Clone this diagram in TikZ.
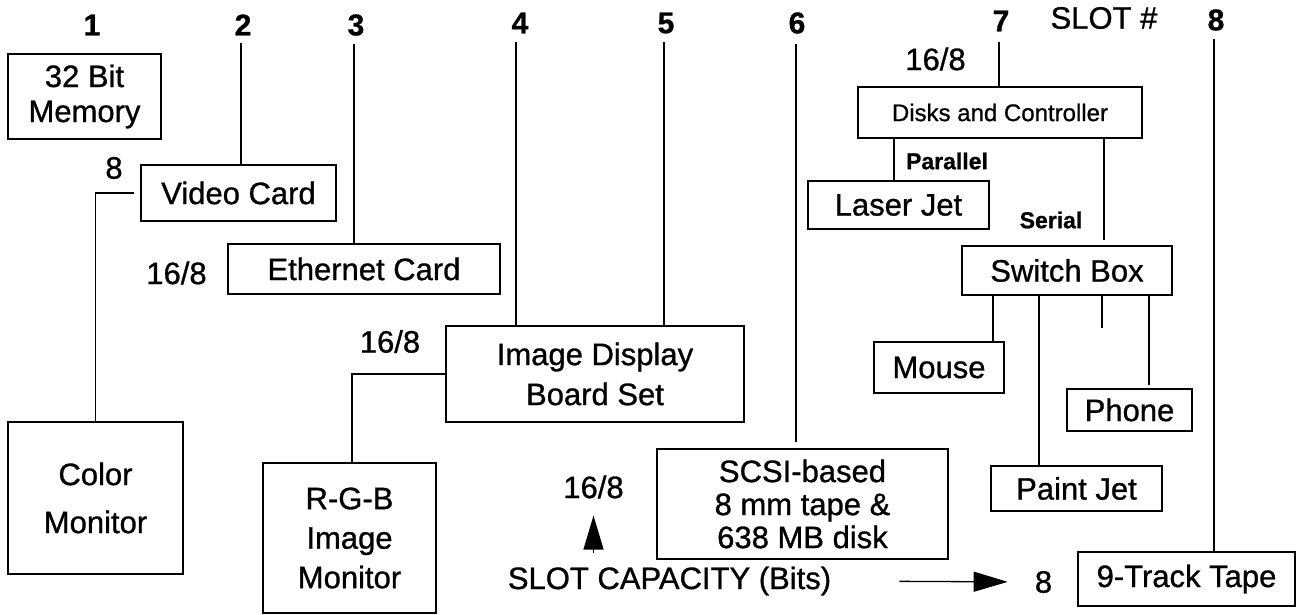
\documentclass[tikz,border=0pt]{standalone}
\usepackage{fontspec}
\setmainfont{Liberation Sans}[FakeBold=0.9]
\usetikzlibrary{arrows.meta}
\begin{document}
\begin{tikzpicture}[x=1pt,y=-1pt,
  box/.style={draw, line width=1.6pt, inner sep=0pt, align=center, font=\fontsize{31}{36}\selectfont},
  num/.style={inner sep=0pt, font=\bfseries\fontsize{30}{30}\selectfont},
  lbl/.style={inner sep=0pt, font=\fontsize{31}{31}\selectfont},
  smalllbl/.style={inner sep=0pt, font=\bfseries\fontsize{23}{23}\selectfont},
  wire/.style={line width=1.3pt},
  capArrow/.style={line width=1.3pt, -{Triangle[length=34pt,width=20pt]}},
]
\useasboundingbox (0,0) rectangle (1299,614);

% slot numbers
\node[num] (n1) at (92,25) {1};
\node[num] (n2) at (243,25) {2};
\node[num] (n3) at (356,25) {3};
\node[num] (n4) at (520,23) {4};
\node[num] (n5) at (666,23) {5};
\node[num] (n6) at (797,23) {6};
\node[num] (n7) at (1001,21) {7};
\node[lbl] (slot) at (1104,18) {SLOT \#};
\node[num] (n8) at (1216,20) {8};

% boxes
\node[box, minimum width=153pt, minimum height=85pt, font=\fontsize{31}{35}\selectfont] (mem) at (84.5,96.5) {32 Bit\\Memory};
\node[box, minimum width=195pt, minimum height=56pt] (video) at (238.5,193) {Video Card};
\node[box, minimum width=272pt, minimum height=50pt] (ether) at (364,269) {Ethernet Card};
\node[box, minimum width=175pt, minimum height=152pt, font=\fontsize{31}{48}\selectfont] (cmon) at (95.5,498) {Color\\Monitor};
\node[box, minimum width=298pt, minimum height=96pt, font=\fontsize{31}{40}\selectfont] (idb) at (595,374) {Image Display\\Board Set};
\node[box, minimum width=173pt, minimum height=150pt, font=\fontsize{31}{39.5}\selectfont] (rgb) at (349.5,538) {R-G-B\\Image\\Monitor};
\node[box, minimum width=291pt, minimum height=110pt, font=\fontsize{31}{33}\selectfont] (scsi) at (802.5,504) {SCSI-based\\8 mm tape \&\\638 MB disk};
\node[box, minimum width=284pt, minimum height=51pt, font=\fontsize{24}{24}\selectfont] (disks) at (1000,112.5) {Disks and Controller};
\node[box, minimum width=181pt, minimum height=48pt] (laser) at (898.5,205) {Laser Jet};
\node[box, minimum width=210pt, minimum height=49pt] (switch) at (1067,270.5) {Switch Box};
\node[box, minimum width=130pt, minimum height=51pt] (mouse) at (939,367.5) {Mouse};
\node[box, minimum width=125pt, minimum height=42pt] (phone) at (1129.5,410) {Phone};
\node[box, minimum width=171pt, minimum height=45pt] (paint) at (1076.5,488.5) {Paint Jet};
\node[box, minimum width=217pt, minimum height=54pt] (tape) at (1186.5,579) {9-Track Tape};

% capacity labels
\node[lbl] (c2) at (114,168) {8};
\node[lbl] (c3) at (176.5,273) {16/8};
\node[lbl] (c45) at (390,341.5) {16/8};
\node[lbl] (ccap) at (593.5,487) {16/8};
\node[lbl] (c7) at (935.5,59) {16/8};
\node[smalllbl] (par) at (947,161) {Parallel};
\node[smalllbl] (ser) at (1051,220) {Serial};
\node[lbl] (cap) at (669.5,581) {SLOT CAPACITY (Bits)};
\node[lbl] (c8) at (1043.5,582) {8};

% slot lines
\draw[wire] ([xshift=-2pt,yshift=-7pt]n2.south) -- ([xshift=-2pt]n2.south |- video.north);
\draw[wire] ([xshift=-2pt,yshift=-8pt]n3.south) -- ([xshift=-2pt]n3.south |- ether.north);
\draw[wire] ([xshift=-4pt,yshift=-8pt]n4.south) -- ([xshift=-4pt]n4.south |- idb.north);
\draw[wire] ([xshift=-2pt,yshift=-8pt]n5.south) -- ([xshift=-2pt]n5.south |- idb.north);
\draw[wire, shorten >=6pt] ([xshift=-1pt,yshift=-10pt]n6.south) -- ([xshift=-1pt]n6.south |- scsi.north);
\draw[wire] ([xshift=-2pt,yshift=-10pt]n7.south) -- ([xshift=-2pt]n7.south |- disks.north);
\draw[wire] ([xshift=-2pt,yshift=-8pt]n8.south) -- ([xshift=-2pt]n8.south |- tape.north);

% device connections
\draw[wire, shorten <=6pt] (video.west) -| (cmon.north);
\draw[wire] (idb.west) -| ([xshift=2.5pt]rgb.north);
\draw[wire] ([xshift=-4.5pt]laser.north) -- ([xshift=-4.5pt]laser.north |- disks.south);
\draw[wire, shorten <=5pt] ([xshift=37pt]switch.north) -- ([xshift=37pt]switch.north |- disks.south);
\draw[wire] ([xshift=54pt]mouse.north) -- ([xshift=54pt]mouse.north |- switch.south);
\draw[wire] ([xshift=-37.5pt]paint.north) -- ([xshift=-37.5pt]paint.north |- switch.south);
\coordinate (stub) at (1102,328);
\draw[wire] (stub) -- (stub |- switch.south);
\draw[wire, shorten <=3pt] ([xshift=19.5pt]phone.north) -- ([xshift=19.5pt]phone.north |- switch.south);

% capacity arrows
\draw[capArrow, shorten <=13pt, shorten >=17pt] (ccap.south |- cap.north) -- (ccap.south);
\draw[capArrow, shorten <=68pt, shorten >=27pt] (cap.east) -- (c8.west);
\end{tikzpicture}
\end{document}
